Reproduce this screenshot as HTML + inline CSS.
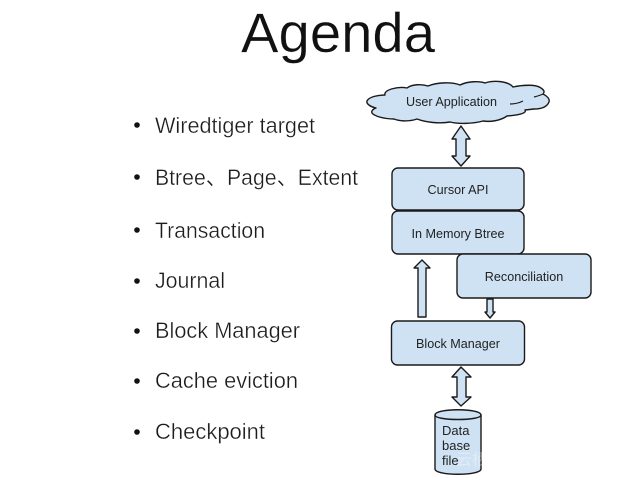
<!DOCTYPE html>
<html>
<head>
<meta charset="utf-8">
<style>
html,body{margin:0;padding:0;background:#fff;width:623px;height:485px;overflow:hidden}
svg{display:block;filter:blur(.35px)}
text{font-family:"Liberation Sans","Noto Sans CJK SC",sans-serif}
.li{font-size:22.6px;fill:#1c1c1c}
.lb{font-size:12.6px;fill:#222;text-anchor:middle}
.s{fill:#cfe2f3;stroke:#1a1a1a;stroke-width:1.4;stroke-linejoin:round}
.thin{stroke:#fff;stroke-width:.35px}
</style>
</head>
<body>
<svg width="623" height="485" viewBox="0 0 623 485" xmlns="http://www.w3.org/2000/svg">
<text x="241" y="52" font-size="56" fill="#111" class="thin" textLength="194" lengthAdjust="spacingAndGlyphs">Agenda</text>

<g fill="#111">
<circle cx="137" cy="125" r="2.8"/><circle cx="137" cy="177" r="2.8"/><circle cx="137" cy="230" r="2.8"/><circle cx="137" cy="281" r="2.8"/><circle cx="137" cy="331" r="2.8"/><circle cx="137" cy="381" r="2.8"/><circle cx="137" cy="432" r="2.8"/>
</g>
<text class="li thin" x="155" y="133" textLength="160" lengthAdjust="spacingAndGlyphs">Wiredtiger target</text>
<text class="li thin" x="155" y="185" textLength="203" lengthAdjust="spacingAndGlyphs">Btree、Page、Extent</text>
<text class="li thin" x="155" y="238" textLength="110" lengthAdjust="spacingAndGlyphs">Transaction</text>
<text class="li thin" x="155" y="288" textLength="70" lengthAdjust="spacingAndGlyphs">Journal</text>
<text class="li thin" x="155" y="338" textLength="145" lengthAdjust="spacingAndGlyphs">Block Manager</text>
<text class="li thin" x="155" y="388" textLength="143" lengthAdjust="spacingAndGlyphs">Cache eviction</text>
<text class="li thin" x="155" y="439" textLength="110" lengthAdjust="spacingAndGlyphs">Checkpoint</text>

<!-- cloud -->
<path class="s" d="M385 95 C383 90 398 86 407 88 C412 84 422 84 428 86 C438 82 452 82 460 85 C468 81 480 81 485 83 C494 80 508 81 513 87 C522 85 536 84 541 88 C544 90 545 92 543 94 C547 96 550 99 549 102 C547 107 541 109 534 109 L525 110 C527 113 520 115 507 116 C500 121 490 122 483 121 C472 124 458 124 450 122 C438 124 425 122 417 119 C408 122 399 121 394 119 C384 119 374 116 372 113 C371 111 373 109 376 108 C371 107 366 104 367 101 C369 97 377 95 385 95 Z"/>
<path d="M510 104 C515 104 519 103 523 101 M534 97 C538 96 541 95 543 94" fill="none" stroke="#1a1a1a" stroke-width="1.2"/>
<text class="lb" x="451.500" y="106">User Application</text>

<!-- top double arrow -->
<path class="s" d="M461 126 L470 139 L466 139 L466 156 L470 156 L461 166 L452 156 L456 156 L456 139 L452 139 Z"/>

<!-- boxes -->
<rect class="s" x="392" y="168" width="132" height="42" rx="6"/>
<text class="lb" x="458" y="194">Cursor API</text>
<rect class="s" x="392" y="211" width="132" height="43" rx="6"/>
<text class="lb" x="458" y="238">In Memory Btree</text>

<!-- up arrow -->
<path class="s" d="M422 260 L430 268 L426 268 L426 317 L418 317 L418 268 L414 268 Z"/>

<rect class="s" x="457" y="254" width="134" height="44" rx="6"/>
<text class="lb" x="524" y="281">Reconciliation</text>

<!-- small down arrow -->
<path class="s" d="M487 299 L493 299 L493 312 L495 312 L490 318 L485 312 L487 312 Z"/>

<rect class="s" x="391.500" y="321" width="133" height="44" rx="6"/>
<text class="lb" x="458" y="348">Block Manager</text>

<!-- lower double arrow -->
<path class="s" d="M461 367 L471 377 L466 377 L466 397 L471 397 L461 406 L452 397 L457 397 L457 377 L452 377 Z"/>

<!-- cylinder -->
<path class="s" d="M435 415 C435 408 481 408 481 415 L481 469 C481 476 435 476 435 469 Z"/>
<path d="M435 415 C435 421 481 421 481 415" fill="none" stroke="#1a1a1a" stroke-width="1.4"/>
<g font-size="13" fill="#222"><text x="442" y="435">Data</text><text x="442" y="450">base</text><text x="442" y="465">file</text></g>
<text x="456" y="465" font-size="16" fill="#fff" opacity=".35">云栖</text>
</svg>
</body>
</html>
